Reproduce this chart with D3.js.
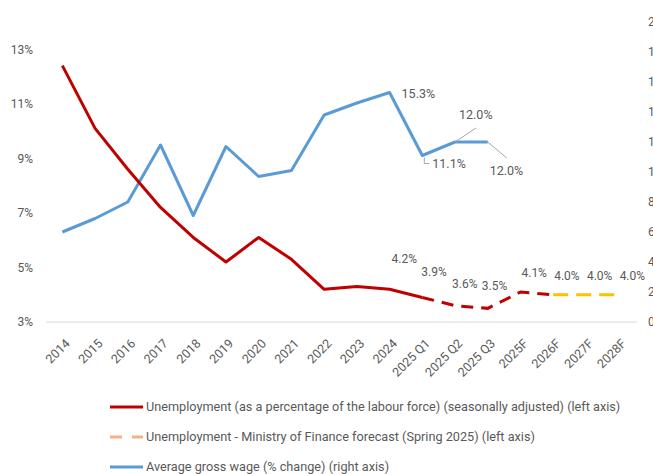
<!DOCTYPE html>
<html>
<head>
<meta charset="utf-8">
<script src="https://cdn.jsdelivr.net/npm/d3@7"></script>
<style>
  body { margin: 0; background: #fff; }
  svg text { font-family: Roboto, "Liberation Sans", sans-serif; }
</style>
</head>
<body>
<script>
const width = 653; const height = 474;

// Categories along the x axis
const categories = ["2014","2015","2016","2017","2018","2019","2020","2021","2022","2023","2024",
  "2025 Q1","2025 Q2","2025 Q3","2025F","2026F","2027F","2028F"];

// Unemployment rate, % (left axis) - actual up to 2025 Q1, then dashed
const unemployment = [12.4,10.1,8.6,7.2,6.1,5.2,6.1,5.3,4.2,4.3,4.2,3.9,3.6,3.5,4.1,4.0,null,null];
// Ministry of Finance forecast (Spring 2025), % (left axis)
const mofForecast = [null,null,null,null,null,null,null,null,null,null,null,null,null,null,null,4.0,4.0,4.0];
// Average gross wage, % change (right axis)
const wageGrowth = [6.0,6.9,8.0,11.8,7.1,11.7,9.7,10.1,13.8,14.6,15.3,11.1,12.0,12.0,null,null,null,null];

const leftTicks = [3,5,7,9,11,13];
const rightTicks = [0,2,4,6,8,10,12,14,16,18,20];

const legendNames = [
  "Unemployment (as a percentage of the labour force) (seasonally adjusted) (left axis)",
  "Unemployment - Ministry of Finance forecast (Spring 2025) (left axis)",
  "Average gross wage (% change) (right axis)"
];

const red = "#c00000", blue = "#5b9bd5", yellow = "#ffc000", peach = "#f4b183", grey = "#595959";

const plot = { left: 46, right: 635, top: 22, bottom: 322 };

const svg = d3.select("body").append("svg")
    .attr("width", width)
    .attr("height", height);

const x = d3.scalePoint()
    .domain(categories)
    .range([plot.left, plot.right])
    .padding(0.5);

const yL = d3.scaleLinear().domain([3, 14]).range([plot.bottom, plot.top]);
const yR = d3.scaleLinear().domain([0, 20]).range([plot.bottom, plot.top]);

// axis line along the bottom
svg.append("line")
    .attr("x1", plot.left).attr("x2", plot.right + 2)
    .attr("y1", plot.bottom).attr("y2", plot.bottom)
    .attr("stroke", "#d9d9d9").attr("stroke-width", 1);

// left axis
const gl = svg.append("g")
    .attr("transform", "translate(" + plot.left + ",0)")
    .call(d3.axisLeft(yL).tickValues(leftTicks).tickSize(0).tickPadding(13).tickFormat(d => d + "%"));
gl.select(".domain").remove();
gl.selectAll("text").attr("fill", grey).style("font-size", "12px");

// right axis (cut by the page edge, as in the original)
const gr = svg.append("g")
    .attr("transform", "translate(" + plot.right + ",0)")
    .call(d3.axisRight(yR).tickValues(rightTicks).tickSize(0).tickPadding(13).tickFormat(d => d + "%"));
gr.select(".domain").remove();
gr.selectAll("text").attr("fill", grey).style("font-size", "12px");

// x tick labels, rotated
svg.append("g").selectAll("text")
    .data(categories)
    .join("text")
    .attr("transform", d => "translate(" + (x(d) + 3) + "," + (plot.bottom + 17) + ") rotate(-45)")
    .attr("text-anchor", "end")
    .attr("dy", "0.6em")
    .attr("fill", grey)
    .style("font-size", "12.5px")
    .text(d => d);

function pts(values, from, to) {
    let out = [];
    for (let i = from; i <= to; i++) {
        if (values[i] != null) out.push([categories[i], values[i]]);
    }
    return out;
}

const lineL = d3.line().x(d => x(d[0])).y(d => yL(d[1]));
const lineR = d3.line().x(d => x(d[0])).y(d => yR(d[1]));

// blue wage line
svg.append("path")
    .attr("d", lineR(pts(wageGrowth, 0, 13)))
    .attr("fill", "none").attr("stroke", blue).attr("stroke-width", 3)
    .attr("stroke-linejoin", "round");

// red unemployment: solid then dashed
svg.append("path")
    .attr("d", lineL(pts(unemployment, 0, 11)))
    .attr("fill", "none").attr("stroke", red).attr("stroke-width", 3)
    .attr("stroke-linejoin", "round");
svg.append("path")
    .attr("d", lineL(pts(unemployment, 11, 15)))
    .attr("fill", "none").attr("stroke", red).attr("stroke-width", 3)
    .attr("stroke-dasharray", "12,8");

// yellow MoF forecast
svg.append("path")
    .attr("d", lineL(pts(mofForecast, 15, 17)))
    .attr("fill", "none").attr("stroke", yellow).attr("stroke-width", 3)
    .attr("stroke-dasharray", "15,8");

// data labels for unemployment, 2024 onwards
const redLabelShift = { "2024": [2, -26], "2025 Q1": [-1, -21], "2025 Q2": [-3, -18], "2025 Q3": [-6, -18] };
const redLabelIdx = d3.range(10, 18);
svg.append("g").selectAll("text")
    .data(redLabelIdx)
    .join("text")
    .attr("x", i => x(categories[i]) + (redLabelShift[categories[i]] ? redLabelShift[categories[i]][0] : 1))
    .attr("y", i => {
        const v = unemployment[i] != null ? unemployment[i] : mofForecast[i];
        return yL(v) + (redLabelShift[categories[i]] ? redLabelShift[categories[i]][1] : -15);
    })
    .attr("fill", grey)
    .style("font-size", "12px")
    .text(i => (unemployment[i] != null ? unemployment[i] : mofForecast[i]).toFixed(1) + "%");

// wage labels with leader lines
const wageLabels = [
  { i: 10, dx: 12, dy: 1, leader: false },
  { i: 11, dx: 10, dy: 8, leader: [[2, 2], [2, 8], [7, 8]] },
  { i: 12, dx: 4, dy: -27, leader: [[0, 0], [21, -14]] },
  { i: 13, dx: 2, dy: 29, leader: [[0, 0], [19, 16]] }
];
wageLabels.forEach(l => {
    const px = x(categories[l.i]), py = yR(wageGrowth[l.i]);
    if (l.leader) {
        svg.append("path")
            .attr("d", d3.line()(l.leader.map(p => [px + p[0], py + p[1]])))
            .attr("fill", "none").attr("stroke", "#a6a6a6").attr("stroke-width", 1);
    }
    svg.append("text")
        .attr("x", px + l.dx).attr("y", py + l.dy)
        .attr("dy", "0.35em")
        .attr("fill", grey)
        .style("font-size", "12.5px")
        .text(wageGrowth[l.i].toFixed(1) + "%");
});

// legend
const legendColors = [red, peach, blue];
const legendDash = [null, "12,10", null];
const lg = svg.append("g").selectAll("g")
    .data(legendNames)
    .join("g")
    .attr("transform", (d, i) => "translate(110," + (407 + i * 30) + ")");
lg.append("line")
    .attr("x1", 0).attr("x2", 33)
    .attr("stroke", (d, i) => legendColors[i])
    .attr("stroke-width", 3)
    .attr("stroke-dasharray", (d, i) => legendDash[i]);
lg.append("text")
    .attr("x", 36).attr("dy", "0.35em")
    .attr("fill", grey)
    .style("font-size", "12.7px")
    .text(d => d);
</script>
</body>
</html>
